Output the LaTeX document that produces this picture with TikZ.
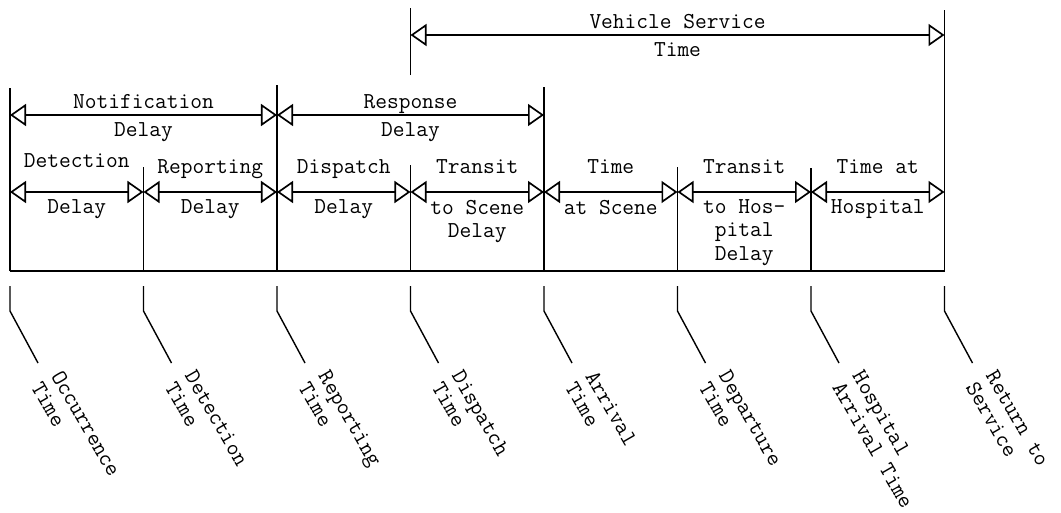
\documentclass[tikz,border=0pt]{standalone}
\usepackage{fontspec}
\usetikzlibrary{arrows.meta}

\begin{document}
\begin{tikzpicture}[x=0.025cm, y=0.025cm,
        every node/.style={font=\ttfamily\fontsize{16.2}{16.5}\selectfont},
        span/.style={{Triangle[open, length=4mm, width=5.5mm]}-{Triangle[open, length=4mm, width=5.5mm]}, line width=1.2pt},
        tick/.style={line width=0.8pt},
        axis/.style={line width=1.2pt},
        lead/.style={line width=1pt},
        toplabel/.style={anchor=base, yshift=1.5mm, inner sep=0pt},
        highlabel/.style={anchor=base, yshift=4.5mm, inner sep=0pt},
        botlabel/.style={anchor=north, yshift=-1.75mm, inner sep=0pt, align=center},
        evlabel/.style={rotate=-60, anchor=west, align=left, inner xsep=4.25mm, inner ysep=0pt}
    ]
    \useasboundingbox (0,0) rectangle (1061,-513);

    % rows of the spans
    \coordinate (vrow) at (0,-35);
    \coordinate (nrow) at (0,-115);
    \coordinate (drow) at (0,-192);

    % event times on the axis
    \coordinate (occ) at (10,-271);
    \coordinate (det) at (143.5,-271);
    \coordinate (rep) at (277,-271);
    \coordinate (dis) at (410.5,-271);
    \coordinate (arr) at (544,-271);
    \coordinate (dep) at (677.5,-271);
    \coordinate (hos) at (811,-271);
    \coordinate (ret) at (944.5,-271);

    \draw[axis] (occ) -- (ret);
    \draw[tick] (occ) -- ++(0,183);
    \draw[tick] (det) -- ++(0,104);
    \draw[tick] (rep) -- ++(0,186);
    \draw[tick] (dis) -- ++(0,106);
    \draw[tick] (dis) ++(0,196) -- ++(0,67);
    \draw[tick] (arr) -- ++(0,184);
    \draw[tick] (dep) -- ++(0,104);
    \draw[tick] (hos) -- ++(0,103);
    \draw[tick] (ret) -- ++(0,261);

    % spans
    \draw[span] (dis |- vrow) -- node[toplabel] (veh-t) {Vehicle Service} node[botlabel] (veh-b) {Time} (ret |- vrow);
    \draw[span] (occ |- nrow) -- node[toplabel] (not-t) {Notification} node[botlabel] (not-b) {Delay} (rep |- nrow);
    \draw[span] (rep |- nrow) -- node[toplabel] (res-t) {Response} node[botlabel] (res-b) {Delay} (arr |- nrow);

    \draw[span] (occ |- drow) -- node[highlabel, yshift=1.5mm] (dtc-t) {Detection} node[botlabel] (dtc-b) {Delay} (det |- drow);
    \draw[span] (det |- drow) -- node[highlabel] (rpt-t) {Reporting} node[botlabel] (rpt-b) {Delay} (rep |- drow);
    \draw[span] (rep |- drow) -- node[highlabel] (dsp-t) {Dispatch} node[botlabel] (dsp-b) {Delay} (dis |- drow);
    \draw[span] (dis |- drow) -- node[highlabel] (tsc-t) {Transit} node[botlabel] (tsc-b) {to Scene\\Delay} (arr |- drow);
    \draw[span] (arr |- drow) -- node[highlabel] (tas-t) {Time} node[botlabel] (tas-b) {at Scene} (dep |- drow);
    \draw[span] (dep |- drow) -- node[highlabel] (thp-t) {Transit} node[botlabel] (thp-b) {to Hos-\\pital\\Delay} (hos |- drow);
    \draw[span] (hos |- drow) -- node[highlabel] (tah-t) {Time at} node[botlabel] (tah-b) {Hospital} (ret |- drow);

    % leaders to the event names
    \draw[lead] (occ) ++(0,-15) -- ++(0,-25) -- ++(28,-52) node[evlabel] (occ-l) {Occurrence\\Time};
    \draw[lead] (det) ++(0,-15) -- ++(0,-25) -- ++(28,-52) node[evlabel] (det-l) {Detection\\Time};
    \draw[lead] (rep) ++(0,-15) -- ++(0,-25) -- ++(28,-52) node[evlabel] (rep-l) {Reporting\\Time};
    \draw[lead] (dis) ++(0,-15) -- ++(0,-25) -- ++(28,-52) node[evlabel] (dis-l) {Dispatch\\Time};
    \draw[lead] (arr) ++(0,-15) -- ++(0,-25) -- ++(28,-52) node[evlabel] (arr-l) {Arrival\\Time};
    \draw[lead] (dep) ++(0,-15) -- ++(0,-25) -- ++(28,-52) node[evlabel] (dep-l) {Departure\\Time};
    \draw[lead] (hos) ++(0,-15) -- ++(0,-25) -- ++(28,-52) node[evlabel] (hos-l) {Hospital\\Arrival Time};
    \draw[lead] (ret) ++(0,-15) -- ++(0,-25) -- ++(28,-52) node[evlabel] (ret-l) {Return to\\Service};
\end{tikzpicture}
\end{document}
